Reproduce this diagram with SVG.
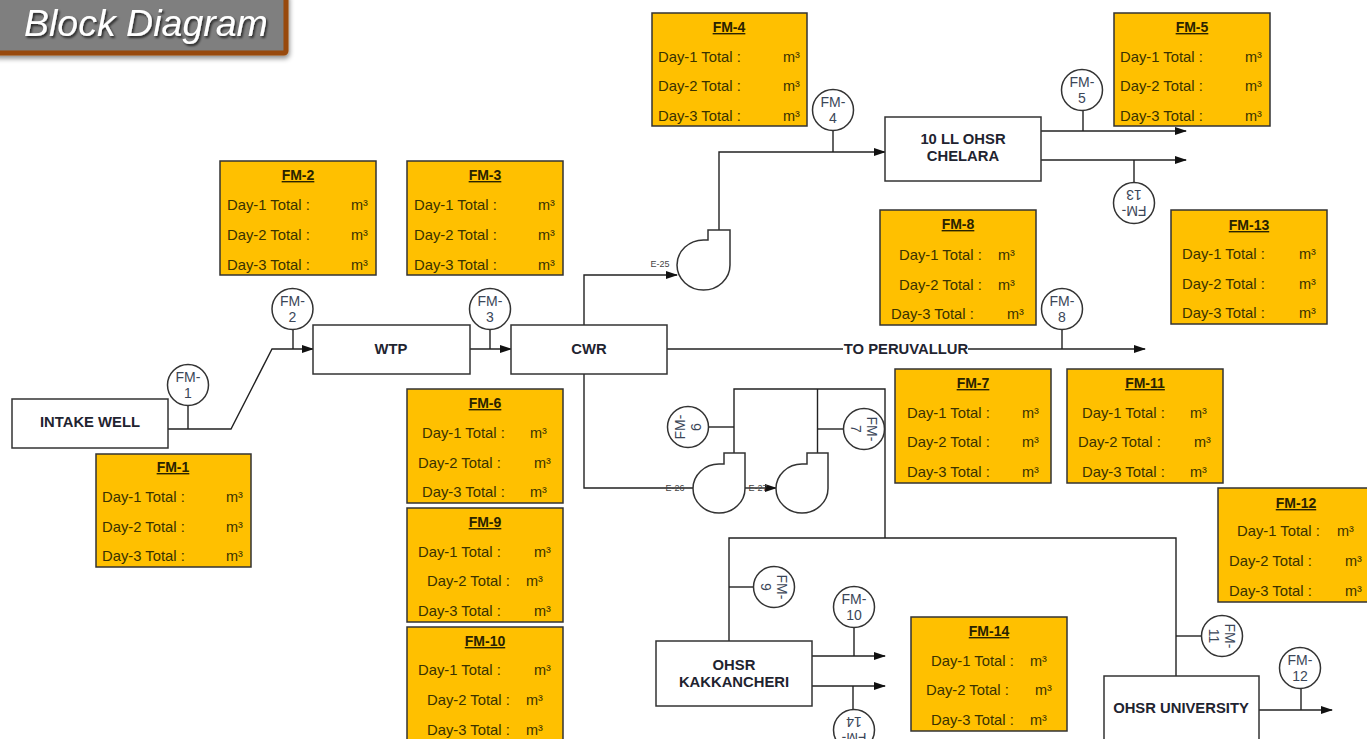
<svg xmlns="http://www.w3.org/2000/svg" width="1367" height="739" viewBox="0 0 1367 739">
<defs>
<marker id="arrow" markerUnits="userSpaceOnUse" markerWidth="12" markerHeight="8" refX="11" refY="4" orient="auto"><path d="M0,0 L12,4 L0,8 Z" fill="#111"/></marker>
<filter id="panelShadow" x="-5%" y="-20%" width="115%" height="150%"><feDropShadow dx="1" dy="3" stdDeviation="2.5" flood-color="#000" flood-opacity="0.45"/></filter>
<filter id="textShadow" x="-5%" y="-20%" width="115%" height="150%"><feDropShadow dx="1.5" dy="2" stdDeviation="1" flood-color="#000" flood-opacity="0.7"/></filter>
</defs>
<style>
text{font-family:"Liberation Sans",Arial,sans-serif}
.fm rect{fill:#FFC000;stroke:#333;stroke-width:1.5}
.fm text{font-size:14.8px;fill:#3a3200}
.fm .t{font-size:14px;font-weight:bold;text-decoration:underline;text-anchor:middle;fill:#2a2300}
.fm .m{font-size:14.5px}
.blk rect{fill:#fff;stroke:#333;stroke-width:1.5}
.blk text{font-size:14.8px;font-weight:bold;fill:#1f2430;text-anchor:middle}
.inst circle{fill:#fff;stroke:#333;stroke-width:1.5}
.inst text{font-size:14px;fill:#3b4658;text-anchor:middle}
.pump path{fill:#fff;stroke:#333;stroke-width:1.5}
.lbl{font-size:9px;fill:#444;text-anchor:middle}
#connectors path{fill:none;stroke:#222;stroke-width:1.4}
.a{marker-end:url(#arrow)}
</style>

<g id="title"><rect x="-6" y="-6" width="292" height="59" rx="2" fill="#7f7f7f" stroke="#984807" stroke-width="5" filter="url(#panelShadow)"/><text x="24" y="36" font-size="37.5" font-style="italic" fill="#fff" filter="url(#textShadow)">Block Diagram</text></g>

<g id="connectors">
<path d="M168,429H231L272,349H313" class="a"/><path d="M188,406V429"/><path d="M293,330V349"/>
<path d="M470,349H511" class="a"/><path d="M490,330V349"/>
<path d="M584,325V275H677" class="a"/>
<path d="M719,230V152H885" class="a"/><path d="M833,131V152"/>
<path d="M667,349H1145" class="a"/><path d="M1062,330V349"/>
<path d="M584,374V488H693"/><path d="M745,488H776" class="a"/>
<path d="M734,453V389H885V538"/><path d="M817.5,453V389"/>
<path d="M729,641V538H1176V676"/>
<path d="M709,427H734"/><path d="M818,429H843"/><path d="M729,587H753"/><path d="M1176,636H1201"/>
<path d="M812,656H885" class="a"/><path d="M812,686H885" class="a"/><path d="M854,628V656"/><path d="M853,686V709"/>
<path d="M1259,710H1332" class="a"/><path d="M1301,688V710"/>
<path d="M1041,131H1186" class="a"/><path d="M1041,160H1186" class="a"/><path d="M1083,110V131"/><path d="M1134,160V182"/>
</g>

<g id="pump-e25" class="pump"><path d="M708,240V230H730V265A26.5,25 0 1 1 703.5,240Z"/><text class="lbl" x="660" y="267">E-25</text></g>
<g id="pump-e26" class="pump"><path d="M724,464V453H745V488.500A26,24.500 0 1 1 719,464Z"/><text class="lbl" x="675" y="491">E-26</text></g>
<g id="pump-e27" class="pump"><path d="M807,464V453H828V488.500A26,24.500 0 1 1 802,464Z"/><text class="lbl" x="758" y="491">E-27</text></g>

<g id="intake-well" class="blk"><rect x="12" y="399" width="156" height="49"/><text x="90" y="427">INTAKE WELL</text></g>
<g id="wtp" class="blk"><rect x="313" y="325" width="157" height="49"/><text x="391" y="354">WTP</text></g>
<g id="cwr" class="blk"><rect x="511" y="325" width="156" height="49"/><text x="589" y="354">CWR</text></g>
<g id="ohsr-chelara" class="blk"><rect x="885" y="117" width="156" height="64"/><text x="963" y="144">10 LL OHSR</text><text x="963" y="161">CHELARA</text></g>
<g id="ohsr-kakkancheri" class="blk"><rect x="656" y="641" width="156" height="65"/><text x="734" y="670">OHSR</text><text x="734" y="687">KAKKANCHERI</text></g>
<g id="ohsr-university" class="blk"><rect x="1104" y="676" width="155" height="84"/><text x="1181" y="713">OHSR UNIVERSITY</text></g>

<g id="to-peruvallur"><rect x="843" y="342" width="125" height="14" fill="#fff"/><text x="906" y="354" font-size="14.8" font-weight="bold" fill="#1f2430" text-anchor="middle">TO PERUVALLUR</text></g>

<g id="inst-1" class="inst"><circle cx="188" cy="385" r="20.5"/><text x="188" y="382">FM-</text><text x="188" y="398">1</text></g>
<g id="inst-2" class="inst"><circle cx="292.500" cy="309" r="20.5"/><text x="292.500" y="306">FM-</text><text x="292.500" y="322">2</text></g>
<g id="inst-3" class="inst"><circle cx="490" cy="309" r="20.5"/><text x="490" y="306">FM-</text><text x="490" y="322">3</text></g>
<g id="inst-4" class="inst"><circle cx="833" cy="110" r="20.5"/><text x="833" y="107">FM-</text><text x="833" y="123">4</text></g>
<g id="inst-5" class="inst"><circle cx="1082" cy="90" r="20.5"/><text x="1082" y="87">FM-</text><text x="1082" y="103">5</text></g>
<g id="inst-6" class="inst" transform="rotate(-90 688 427)"><circle cx="688" cy="427" r="20.5"/><text x="688" y="424">FM-</text><text x="688" y="440">6</text></g>
<g id="inst-7" class="inst" transform="rotate(90 864 429)"><circle cx="864" cy="429" r="20.5"/><text x="864" y="426">FM-</text><text x="864" y="442">7</text></g>
<g id="inst-8" class="inst"><circle cx="1062" cy="309" r="20.5"/><text x="1062" y="306">FM-</text><text x="1062" y="322">8</text></g>
<g id="inst-9" class="inst" transform="rotate(90 774 587)"><circle cx="774" cy="587" r="20.5"/><text x="774" y="584">FM-</text><text x="774" y="600">9</text></g>
<g id="inst-10" class="inst"><circle cx="854" cy="607" r="20.5"/><text x="854" y="604">FM-</text><text x="854" y="620">10</text></g>
<g id="inst-11" class="inst" transform="rotate(90 1222 636)"><circle cx="1222" cy="636" r="20.5"/><text x="1222" y="633">FM-</text><text x="1222" y="649">11</text></g>
<g id="inst-12" class="inst"><circle cx="1300" cy="668" r="20.5"/><text x="1300" y="665">FM-</text><text x="1300" y="681">12</text></g>
<g id="inst-13" class="inst" transform="rotate(180 1134 203)"><circle cx="1134" cy="203" r="20.5"/><text x="1134" y="200">FM-</text><text x="1134" y="216">13</text></g>
<g id="inst-14" class="inst" transform="rotate(180 854 730)"><circle cx="854" cy="730" r="20.5"/><text x="854" y="727">FM-</text><text x="854" y="743">14</text></g>

<g id="fm-1" class="fm"><rect x="96" y="454" width="155" height="113"/><text class="t" x="173" y="472">FM-1</text><text x="102" y="502">Day-1 Total :</text><text class="m" x="226" y="502">m³</text><text x="102" y="532">Day-2 Total :</text><text class="m" x="226" y="532">m³</text><text x="102" y="561">Day-3 Total :</text><text class="m" x="226" y="561">m³</text></g>
<g id="fm-2" class="fm"><rect x="220" y="161" width="156" height="114"/><text class="t" x="298" y="180">FM-2</text><text x="227" y="210">Day-1 Total :</text><text class="m" x="351" y="210">m³</text><text x="227" y="240">Day-2 Total :</text><text class="m" x="351" y="240">m³</text><text x="227" y="270">Day-3 Total :</text><text class="m" x="351" y="270">m³</text></g>
<g id="fm-3" class="fm"><rect x="407" y="161" width="156" height="114"/><text class="t" x="485" y="180">FM-3</text><text x="414" y="210">Day-1 Total :</text><text class="m" x="538" y="210">m³</text><text x="414" y="240">Day-2 Total :</text><text class="m" x="538" y="240">m³</text><text x="414" y="270">Day-3 Total :</text><text class="m" x="538" y="270">m³</text></g>
<g id="fm-4" class="fm"><rect x="652" y="13" width="155" height="113"/><text class="t" x="729" y="32">FM-4</text><text x="658" y="62">Day-1 Total :</text><text class="m" x="783" y="62">m³</text><text x="658" y="91">Day-2 Total :</text><text class="m" x="783" y="91">m³</text><text x="658" y="121">Day-3 Total :</text><text class="m" x="783" y="121">m³</text></g>
<g id="fm-5" class="fm"><rect x="1114" y="13" width="156" height="113"/><text class="t" x="1192" y="32">FM-5</text><text x="1120" y="62">Day-1 Total :</text><text class="m" x="1245" y="62">m³</text><text x="1120" y="91">Day-2 Total :</text><text class="m" x="1245" y="91">m³</text><text x="1120" y="121">Day-3 Total :</text><text class="m" x="1245" y="121">m³</text></g>
<g id="fm-6" class="fm"><rect x="407" y="389" width="156" height="114"/><text class="t" x="485" y="408">FM-6</text><text x="422" y="438">Day-1 Total :</text><text class="m" x="530" y="438">m³</text><text x="418" y="468">Day-2 Total :</text><text class="m" x="534" y="468">m³</text><text x="422" y="497">Day-3 Total :</text><text class="m" x="530" y="497">m³</text></g>
<g id="fm-7" class="fm"><rect x="895" y="369" width="156" height="114"/><text class="t" x="973" y="388">FM-7</text><text x="907" y="418">Day-1 Total :</text><text class="m" x="1022" y="418">m³</text><text x="907" y="447">Day-2 Total :</text><text class="m" x="1022" y="447">m³</text><text x="907" y="477">Day-3 Total :</text><text class="m" x="1022" y="477">m³</text></g>
<g id="fm-8" class="fm"><rect x="880" y="210" width="156" height="115"/><text class="t" x="958" y="229">FM-8</text><text x="899" y="260">Day-1 Total :</text><text class="m" x="998" y="260">m³</text><text x="899" y="290">Day-2 Total :</text><text class="m" x="998" y="290">m³</text><text x="891" y="319">Day-3 Total :</text><text class="m" x="1007" y="319">m³</text></g>
<g id="fm-9" class="fm"><rect x="407" y="508" width="156" height="114"/><text class="t" x="485" y="527">FM-9</text><text x="418" y="557">Day-1 Total :</text><text class="m" x="534" y="557">m³</text><text x="427" y="586">Day-2 Total :</text><text class="m" x="526" y="586">m³</text><text x="418" y="616">Day-3 Total :</text><text class="m" x="534" y="616">m³</text></g>
<g id="fm-10" class="fm"><rect x="407" y="627" width="156" height="114"/><text class="t" x="485" y="646">FM-10</text><text x="418" y="675">Day-1 Total :</text><text class="m" x="534" y="675">m³</text><text x="427" y="705">Day-2 Total :</text><text class="m" x="526" y="705">m³</text><text x="427" y="735">Day-3 Total :</text><text class="m" x="526" y="735">m³</text></g>
<g id="fm-11" class="fm"><rect x="1067" y="369" width="156" height="114"/><text class="t" x="1145" y="388">FM-11</text><text x="1082" y="418">Day-1 Total :</text><text class="m" x="1190" y="418">m³</text><text x="1078" y="447">Day-2 Total :</text><text class="m" x="1194" y="447">m³</text><text x="1082" y="477">Day-3 Total :</text><text class="m" x="1190" y="477">m³</text></g>
<g id="fm-12" class="fm"><rect x="1218" y="488" width="156" height="114"/><text class="t" x="1296" y="508">FM-12</text><text x="1237" y="536">Day-1 Total :</text><text class="m" x="1337" y="536">m³</text><text x="1229" y="566">Day-2 Total :</text><text class="m" x="1345" y="566">m³</text><text x="1229" y="596">Day-3 Total :</text><text class="m" x="1345" y="596">m³</text></g>
<g id="fm-13" class="fm"><rect x="1171" y="210" width="156" height="114"/><text class="t" x="1249" y="230">FM-13</text><text x="1182" y="259">Day-1 Total :</text><text class="m" x="1299" y="259">m³</text><text x="1182" y="289">Day-2 Total :</text><text class="m" x="1299" y="289">m³</text><text x="1182" y="318">Day-3 Total :</text><text class="m" x="1299" y="318">m³</text></g>
<g id="fm-14" class="fm"><rect x="911" y="617" width="156" height="114"/><text class="t" x="989" y="636">FM-14</text><text x="931" y="666">Day-1 Total :</text><text class="m" x="1030" y="666">m³</text><text x="926" y="695">Day-2 Total :</text><text class="m" x="1035" y="695">m³</text><text x="931" y="725">Day-3 Total :</text><text class="m" x="1030" y="725">m³</text></g>
</svg>
